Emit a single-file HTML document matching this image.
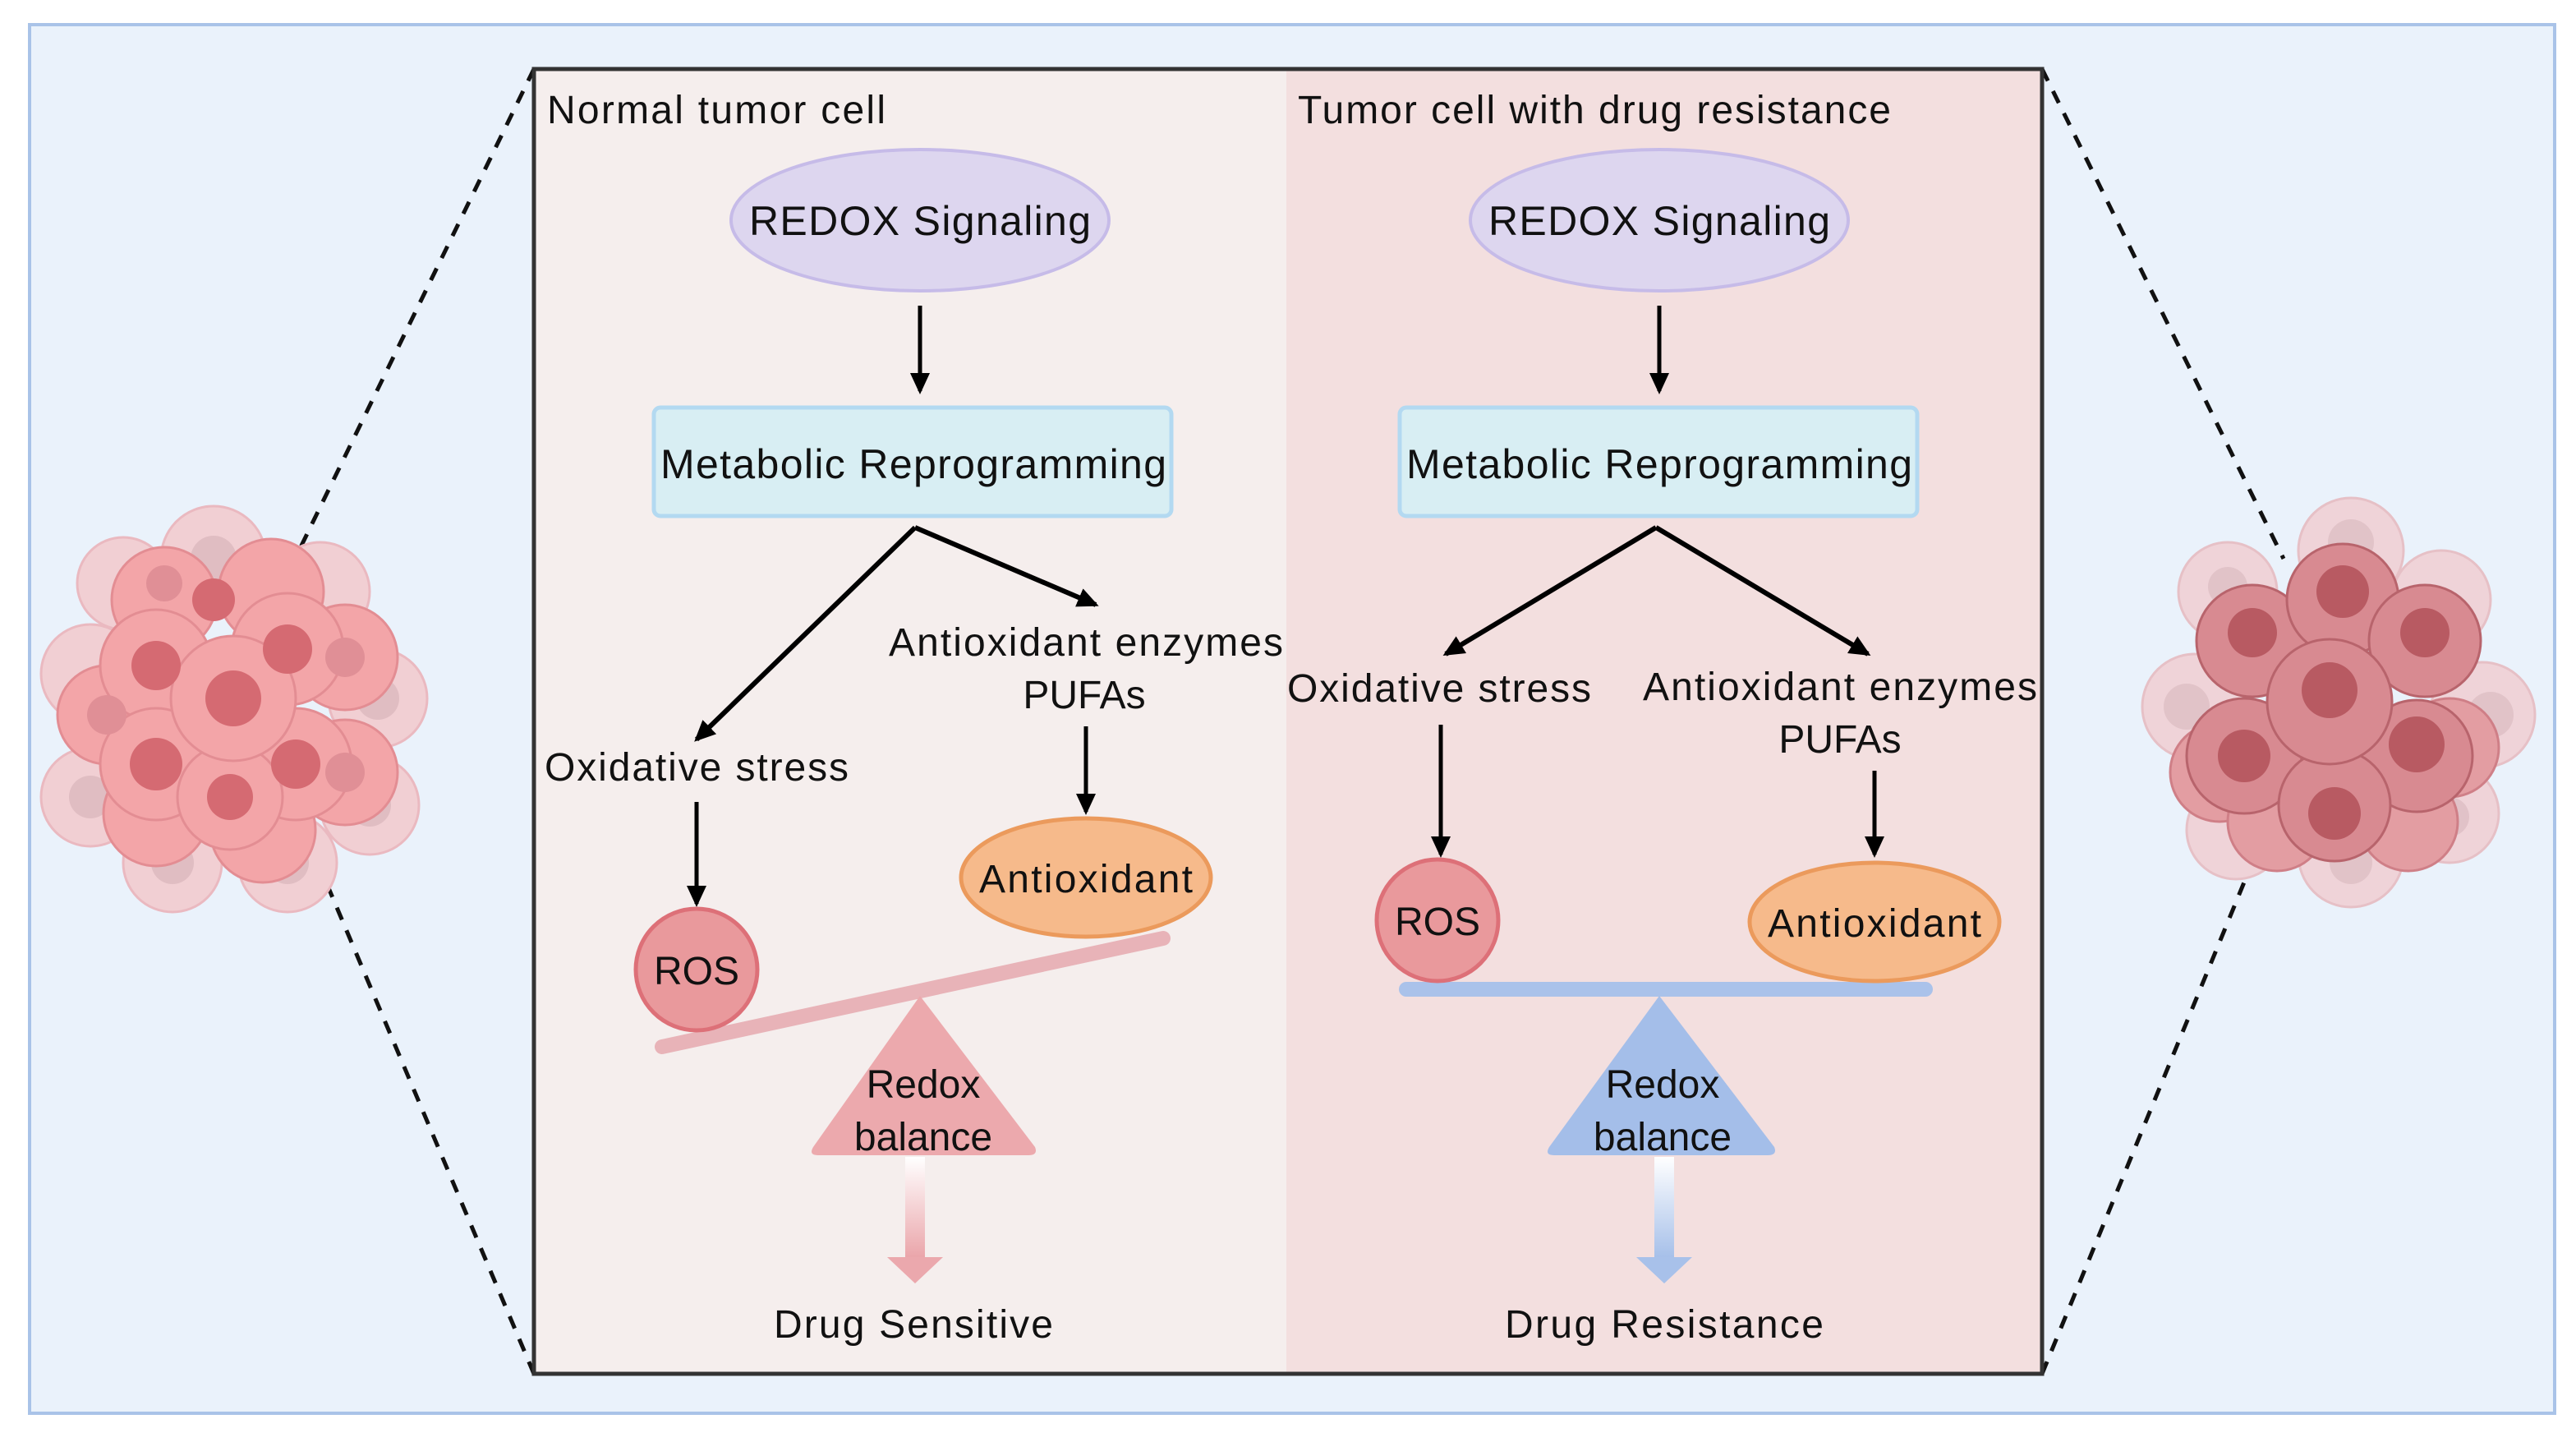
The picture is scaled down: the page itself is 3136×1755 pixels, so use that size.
<!DOCTYPE html>
<html><head><meta charset="utf-8"><style>
html,body{margin:0;padding:0;background:#fff;}
svg{display:block;}
text{font-family:"Liberation Sans",Arial,sans-serif;fill:#111;}
</style></head><body>
<svg width="3136" height="1755" viewBox="0 0 1568 877.5" xmlns="http://www.w3.org/2000/svg">
<defs>
<marker id="ah" markerWidth="13" markerHeight="12" refX="11" refY="6" orient="auto" markerUnits="userSpaceOnUse">
<path d="M0,0 L13,6 L0,12 z" fill="#000"/></marker>
<linearGradient id="gp" x1="0" y1="0" x2="0" y2="1"><stop offset="0" stop-color="#ffffff"/><stop offset="1" stop-color="#eaa4a9"/></linearGradient>
<linearGradient id="gb" x1="0" y1="0" x2="0" y2="1"><stop offset="0" stop-color="#ffffff"/><stop offset="1" stop-color="#a5bfe9"/></linearGradient>
</defs>
<rect x="0" y="0" width="1568" height="877.5" fill="#fff"/>
<rect x="18" y="15" width="1537" height="845" fill="#eaf2fb" stroke="#a9c3e8" stroke-width="2"/>

<g stroke="#111" stroke-width="2.5" stroke-dasharray="8,7" fill="none">
<line x1="325" y1="42" x2="182" y2="335"/>
<line x1="325" y1="836" x2="188" y2="512"/>
<line x1="1243" y1="42" x2="1390" y2="340"/>
<line x1="1243" y1="836" x2="1375" y2="515"/>
</g>

<g transform="translate(140,430)">
<g fill="#f1cfd3" stroke="#eab9c0" stroke-width="1.5">
<circle cx="-10" cy="-90" r="32"/><circle cx="55" cy="-70" r="30"/><circle cx="90" cy="-5" r="30"/><circle cx="85" cy="60" r="30"/>
<circle cx="35" cy="95" r="30"/><circle cx="-35" cy="95" r="30"/><circle cx="-85" cy="55" r="30"/><circle cx="-85" cy="-20" r="30"/><circle cx="-65" cy="-75" r="28"/>
</g>
<g fill="#d9b5bb" opacity="0.7"><circle cx="-10" cy="-90" r="14"/><circle cx="90" cy="-5" r="13"/><circle cx="-85" cy="55" r="13"/><circle cx="35" cy="95" r="13"/><circle cx="-35" cy="95" r="13"/><circle cx="85" cy="60" r="13"/></g>
<g fill="#f3a5a8" stroke="#e38d93" stroke-width="1.5">
<circle cx="-40" cy="-65" r="32"/><circle cx="25" cy="-70" r="32"/><circle cx="70" cy="-30" r="32"/><circle cx="70" cy="40" r="32"/>
<circle cx="20" cy="75" r="32"/><circle cx="-45" cy="65" r="32"/><circle cx="-75" cy="5" r="30"/>
<circle cx="-45" cy="-25" r="34"/><circle cx="35" cy="-35" r="34"/><circle cx="40" cy="35" r="34"/><circle cx="-45" cy="35" r="34"/><circle cx="0" cy="55" r="32"/><circle cx="2" cy="-5" r="38"/>
</g>
<g fill="#d56a72">
<circle cx="-45" cy="-25" r="15"/><circle cx="35" cy="-35" r="15"/><circle cx="40" cy="35" r="15"/><circle cx="-45" cy="35" r="16"/><circle cx="0" cy="55" r="14"/><circle cx="2" cy="-5" r="17"/><circle cx="-10" cy="-65" r="13"/>
</g>
<g fill="#e08f96"><circle cx="-75" cy="5" r="12"/><circle cx="70" cy="-30" r="12"/><circle cx="70" cy="40" r="12"/><circle cx="-40" cy="-75" r="11"/></g>
</g>

<g transform="translate(1421,425)">
<g fill="#efd3d8" stroke="#e6c0c6" stroke-width="1.5">
<circle cx="10" cy="-90" r="32"/><circle cx="-65" cy="-65" r="30"/><circle cx="65" cy="-60" r="30"/><circle cx="-85" cy="5" r="32"/><circle cx="90" cy="10" r="32"/>
<circle cx="70" cy="70" r="30"/><circle cx="10" cy="95" r="32"/><circle cx="-60" cy="80" r="30"/>
</g>
<g fill="#dcbcc2" opacity="0.7"><circle cx="10" cy="-95" r="14"/><circle cx="-65" cy="-68" r="12"/><circle cx="-90" cy="5" r="14"/><circle cx="95" cy="10" r="14"/><circle cx="10" cy="100" r="13"/><circle cx="70" cy="72" r="12"/></g>
<g fill="#e39da2" stroke="#cf7f87" stroke-width="1.5">
<circle cx="-70" cy="45" r="30"/><circle cx="-35" cy="75" r="30"/><circle cx="45" cy="75" r="30"/><circle cx="70" cy="30" r="30"/>
</g>
<g fill="#d88a91" stroke="#b8646c" stroke-width="1.5">
<circle cx="-50" cy="-35" r="34"/><circle cx="5" cy="-60" r="34"/><circle cx="55" cy="-35" r="34"/><circle cx="-55" cy="35" r="35"/><circle cx="50" cy="35" r="34"/><circle cx="0" cy="65" r="34"/><circle cx="-3" cy="2" r="38"/>
</g>
<g fill="#b85a62">
<circle cx="-50" cy="-40" r="15"/><circle cx="5" cy="-65" r="16"/><circle cx="55" cy="-40" r="15"/><circle cx="-55" cy="35" r="16"/><circle cx="50" cy="28" r="17"/><circle cx="0" cy="70" r="16"/><circle cx="-3" cy="-5" r="17"/>
</g>
</g>

<rect x="325" y="42" width="458" height="794" fill="#f5eeed"/>
<rect x="783" y="42" width="460" height="794" fill="#f3dfdf"/>
<rect x="325" y="42" width="918" height="794" fill="none" stroke="#333" stroke-width="2.5"/>

<text x="333" y="75" font-size="24" textLength="206">Normal tumor cell</text>
<ellipse cx="560" cy="134" rx="115" ry="43" fill="#ddd6ef" stroke="#c6bbe8" stroke-width="2"/>
<text x="560" y="143" font-size="25" text-anchor="middle" textLength="208">REDOX Signaling</text>
<line x1="560" y1="186" x2="560" y2="238" stroke="#000" stroke-width="2.5" marker-end="url(#ah)"/>
<rect x="398" y="248" width="315" height="66" rx="4" fill="#d8eef3" stroke="#b3d9f1" stroke-width="2.5"/>
<text x="556" y="291" font-size="25" text-anchor="middle" textLength="308">Metabolic Reprogramming</text>
<line x1="557" y1="321" x2="424" y2="450" stroke="#000" stroke-width="3" marker-end="url(#ah)"/>
<line x1="557" y1="321" x2="667" y2="368" stroke="#000" stroke-width="3" marker-end="url(#ah)"/>
<text x="661" y="399" font-size="24" text-anchor="middle" textLength="240">Antioxidant enzymes</text>
<text x="660" y="431" font-size="24" text-anchor="middle">PUFAs</text>
<line x1="661" y1="442" x2="661" y2="494" stroke="#000" stroke-width="2.5" marker-end="url(#ah)"/>
<text x="424" y="475" font-size="24" text-anchor="middle" textLength="185">Oxidative stress</text>
<line x1="424" y1="488" x2="424" y2="550" stroke="#000" stroke-width="2.5" marker-end="url(#ah)"/>
<ellipse cx="661" cy="534" rx="76" ry="36" fill="#f6ba8b" stroke="#eb9a5c" stroke-width="2.5"/>
<text x="661" y="543" font-size="24" text-anchor="middle" textLength="130">Antioxidant</text>
<line x1="403" y1="637" x2="708" y2="571" stroke="#e8b3b8" stroke-width="9" stroke-linecap="round"/>
<circle cx="424" cy="590" r="37" fill="#e9999c" stroke="#dd7078" stroke-width="2.5"/>
<text x="424" y="599" font-size="24" text-anchor="middle">ROS</text>
<path d="M560,606 L630,698 Q632,703 626,703 L498,703 Q492,703 495,698 Z" fill="#eca9ad"/>
<text x="562" y="668" font-size="24" text-anchor="middle">Redox</text>
<text x="562" y="700" font-size="24" text-anchor="middle">balance</text>
<rect x="551" y="704" width="12" height="62" fill="url(#gp)"/>
<path d="M540,765 L574,765 L557,781 Z" fill="#eba8ad"/>
<text x="556" y="814" font-size="24" text-anchor="middle" textLength="170">Drug Sensitive</text>

<text x="790" y="75" font-size="24" textLength="361">Tumor cell with drug resistance</text>
<ellipse cx="1010" cy="134" rx="115" ry="43" fill="#ddd6ef" stroke="#c6bbe8" stroke-width="2"/>
<text x="1010" y="143" font-size="25" text-anchor="middle" textLength="208">REDOX Signaling</text>
<line x1="1010" y1="186" x2="1010" y2="238" stroke="#000" stroke-width="2.5" marker-end="url(#ah)"/>
<rect x="852" y="248" width="315" height="66" rx="4" fill="#d8eef3" stroke="#b3d9f1" stroke-width="2.5"/>
<text x="1010" y="291" font-size="25" text-anchor="middle" textLength="308">Metabolic Reprogramming</text>
<line x1="1008" y1="321" x2="880" y2="398" stroke="#000" stroke-width="3" marker-end="url(#ah)"/>
<line x1="1008" y1="321" x2="1137" y2="398" stroke="#000" stroke-width="3" marker-end="url(#ah)"/>
<text x="876" y="427" font-size="24" text-anchor="middle" textLength="185">Oxidative stress</text>
<text x="1120" y="426" font-size="24" text-anchor="middle" textLength="240">Antioxidant enzymes</text>
<text x="1120" y="458" font-size="24" text-anchor="middle">PUFAs</text>
<line x1="877" y1="441" x2="877" y2="520" stroke="#000" stroke-width="2.5" marker-end="url(#ah)"/>
<line x1="1141" y1="469" x2="1141" y2="520" stroke="#000" stroke-width="2.5" marker-end="url(#ah)"/>
<line x1="856" y1="602" x2="1172" y2="602" stroke="#aac2ea" stroke-width="9" stroke-linecap="round"/>
<ellipse cx="875" cy="560" rx="37" ry="37" fill="#e9999c" stroke="#dd7078" stroke-width="2.5"/>
<text x="875" y="569" font-size="24" text-anchor="middle">ROS</text>
<ellipse cx="1141" cy="561" rx="76" ry="36" fill="#f6ba8b" stroke="#eb9a5c" stroke-width="2.5"/>
<text x="1141" y="570" font-size="24" text-anchor="middle" textLength="130">Antioxidant</text>
<path d="M1010,606 L1080,698 Q1082,703 1076,703 L946,703 Q940,703 943,698 Z" fill="#a4bee9"/>
<text x="1012" y="668" font-size="24" text-anchor="middle">Redox</text>
<text x="1012" y="700" font-size="24" text-anchor="middle">balance</text>
<rect x="1007" y="704" width="12" height="62" fill="url(#gb)"/>
<path d="M996,765 L1030,765 L1013,781 Z" fill="#a8c1ea"/>
<text x="1013" y="814" font-size="24" text-anchor="middle" textLength="194">Drug Resistance</text>
</svg>
</body></html>
